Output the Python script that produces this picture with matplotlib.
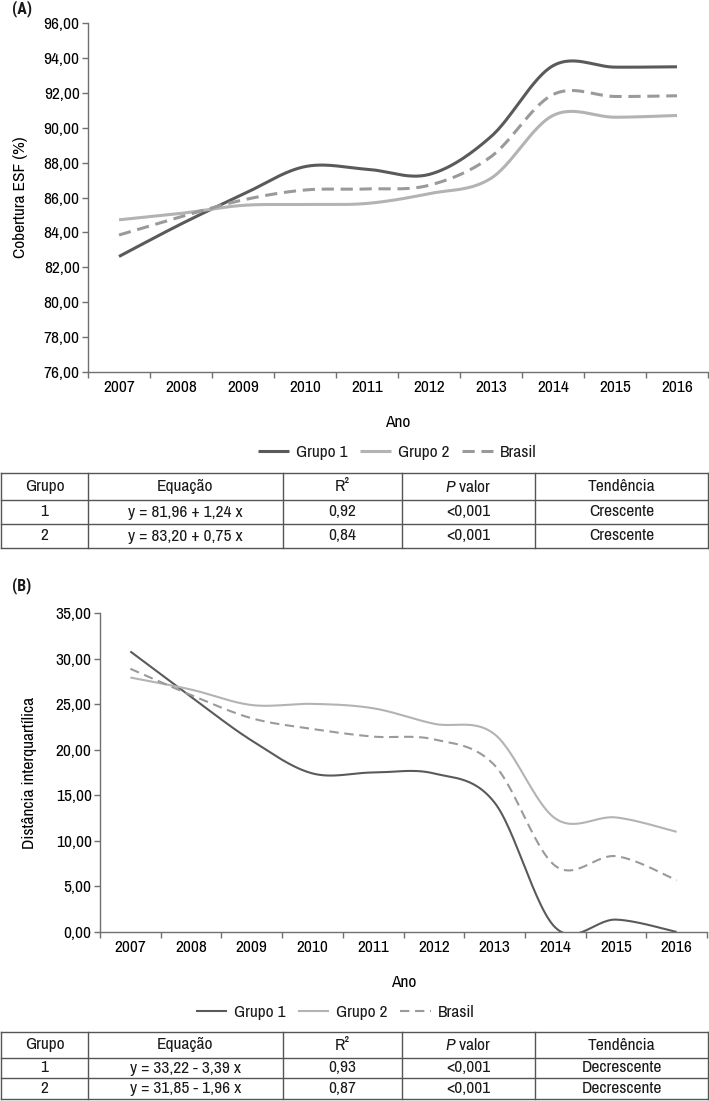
import numpy as np
import matplotlib.pyplot as plt
from matplotlib import font_manager

# font condensada, parecida com a da figura original
nomes = {f.name for f in font_manager.fontManager.ttflist}
base = 'Archivo Narrow' if 'Archivo Narrow' in nomes else 'DejaVu Sans'
negrito = 'Roboto Condensed' if 'Roboto Condensed' in nomes else base
plt.rcParams['font.family'] = [base, 'DejaVu Sans']
plt.rcParams['mathtext.fontset'] = 'custom'
plt.rcParams['mathtext.rm'] = base
plt.rcParams['mathtext.it'] = base + ':italic'
plt.rcParams['text.color'] = '#1a1a1a'
FS = 12.5

anos = ['2007', '2008', '2009', '2010', '2011', '2012', '2013', '2014', '2015', '2016']

# (A) cobertura ESF (%)
cob_g1 = [82.62, 84.48, 86.18, 87.77, 87.62, 87.32, 89.49, 93.55, 93.47, 93.49]
cob_g2 = [84.72, 85.09, 85.55, 85.60, 85.66, 86.22, 87.10, 90.70, 90.60, 90.70]
cob_br = [83.85, 84.90, 85.86, 86.43, 86.49, 86.70, 88.34, 91.90, 91.79, 91.83]

# (B) distancia interquartilica
diq_g1 = [30.78, 25.80, 21.00, 17.40, 17.50, 17.40, 14.20, 0.50, 1.36, 0.00]
diq_g2 = [27.92, 26.60, 24.90, 25.03, 24.55, 22.85, 21.70, 12.46, 12.57, 10.99]
diq_br = [28.88, 26.00, 23.45, 22.28, 21.44, 21.14, 18.30, 7.26, 8.32, 5.68]

cab = ['Grupo', 'Equação', 'R²', '$\\it{P}$ valor', 'Tendência']
tab_a = [['1', 'y = 81,96 + 1,24 x', '0,92', '<0,001', 'Crescente'],
         ['2', 'y = 83,20 + 0,75 x', '0,84', '<0,001', 'Crescente']]
tab_b = [['1', 'y = 33,22 - 3,39 x', '0,93', '<0,001', 'Decrescente'],
         ['2', 'y = 31,85 - 1,96 x', '0,87', '<0,001', 'Decrescente']]

W, H = 709, 1101
c_esc, c_cla, c_br = '#5a5a5a', '#b3b3b3', '#9a9a9a'


def suave(y, n=30):
    # curva suavizada estilo Excel (bezier / catmull-rom)
    p = np.column_stack([np.arange(len(y)), y]).astype(float)
    q = np.vstack([p[0], p, p[-1]])
    t = np.linspace(0, 1, n)[:, None]
    out = []
    for i in range(len(p) - 1):
        p0, p1, p2, p3 = q[i], q[i + 1], q[i + 2], q[i + 3]
        c1 = p1 + (p2 - p0) / 6
        c2 = p2 - (p3 - p1) / 6
        seg = (1 - t) ** 3 * p1 + 3 * (1 - t) ** 2 * t * c1 + 3 * (1 - t) * t ** 2 * c2 + t ** 3 * p2
        out.append(seg if i == 0 else seg[1:])
    return np.vstack(out)


def painel(rect, series, yticks, ylab, lw, dash):
    ax = fig.add_axes(rect)
    for y, cor, est in series:
        s = suave(y)
        ln, = ax.plot(s[:, 0], s[:, 1], color=cor, lw=lw, solid_capstyle='butt')
        if est:
            ln.set_dashes(dash)
    ax.set_xlim(-0.5, len(anos) - 0.5)
    ax.set_ylim(yticks[0], yticks[-1])
    ax.set_yticks(yticks)
    ax.set_yticklabels([f'{v:.2f}'.replace('.', ',') for v in yticks], fontsize=FS)
    ax.set_xticks(np.arange(len(anos) + 1) - 0.5)
    ax.set_xticklabels([])
    ax.set_xticks(np.arange(len(anos)), minor=True)
    ax.set_xticklabels(anos, minor=True, fontsize=FS)
    ax.tick_params(axis='x', which='minor', length=0, pad=6)
    ax.tick_params(axis='both', which='major', length=4, width=1, color='#707070')
    ax.tick_params(axis='y', pad=2)
    for s in ['top', 'right']:
        ax.spines[s].set_visible(False)
    for s in ['left', 'bottom']:
        ax.spines[s].set_color('#707070')
        ax.spines[s].set_linewidth(1.0)
    ax.set_ylabel(ylab, fontsize=FS)
    ax.set_xlabel('Ano', fontsize=FS, labelpad=14)
    return ax


def tabela(linhas_y, dados):
    xs = [1, 88, 283, 402, 535, 708]
    topo, base_ = linhas_y[0], linhas_y[-1]
    for y in linhas_y:
        ov.plot([xs[0], xs[-1]], [y, y], color='#555555', lw=1.0)
    for x in xs:
        ov.plot([x, x], [topo, base_], color='#555555', lw=1.0)
    cx = [(xs[i] + xs[i + 1]) / 2 for i in range(5)]
    linhas = [cab] + dados
    for k, lin in enumerate(linhas):
        yc = (linhas_y[k] + linhas_y[k + 1]) / 2
        for j, txt in enumerate(lin):
            ov.text(cx[j], yc, txt, ha='center', va='center', fontsize=FS)


fig = plt.figure(figsize=(W / 100, H / 100), dpi=100)

# painel A
axa = painel([88 / W, 1 - 372 / H, 620 / W, 349 / H],
             [(cob_g1, c_esc, False), (cob_g2, c_cla, False), (cob_br, c_br, True)],
             np.arange(76, 97, 2), 'Cobertura ESF (%)', 2.2, (4, 2.2))
axa.yaxis.set_label_coords(-0.096, 0.5)

# painel B
axb = painel([100 / W, 1 - 932 / H, 607 / W, 319 / H],
             [(diq_g1, c_esc, False), (diq_g2, c_cla, False), (diq_br, c_br, True)],
             np.arange(0, 36, 5), 'Distância interquartílica', 1.5, (4.5, 2.7))
axb.yaxis.set_label_coords(-0.104, 0.5)

ov = fig.add_axes([0, 0, 1, 1], zorder=-1)
ov.set_xlim(0, W)
ov.set_ylim(H, 0)
ov.axis('off')

fig.text(12 / W, 1 - 9 / H, '(A)', fontsize=FS - 1, fontweight='bold', va='center', family=negrito)
fig.text(12 / W, 1 - 586 / H, '(B)', fontsize=FS - 1, fontweight='bold', va='center', family=negrito)

for ax, (cx, cy) in [(axa, (397, 452)), (axb, (335, 1012))]:
    hs = ax.get_lines()
    ax.legend(hs, ['Grupo 1', 'Grupo 2', 'Brasil'], loc='center', ncol=3,
              bbox_to_anchor=(cx / W, 1 - cy / H), bbox_transform=fig.transFigure,
              frameon=False, fontsize=FS, handlelength=1.8, handletextpad=0.4,
              columnspacing=0.7)

tabela([473, 500, 524, 548], tab_a)
tabela([1032, 1058, 1078, 1099], tab_b)

fig.savefig('out.png', dpi=100)
